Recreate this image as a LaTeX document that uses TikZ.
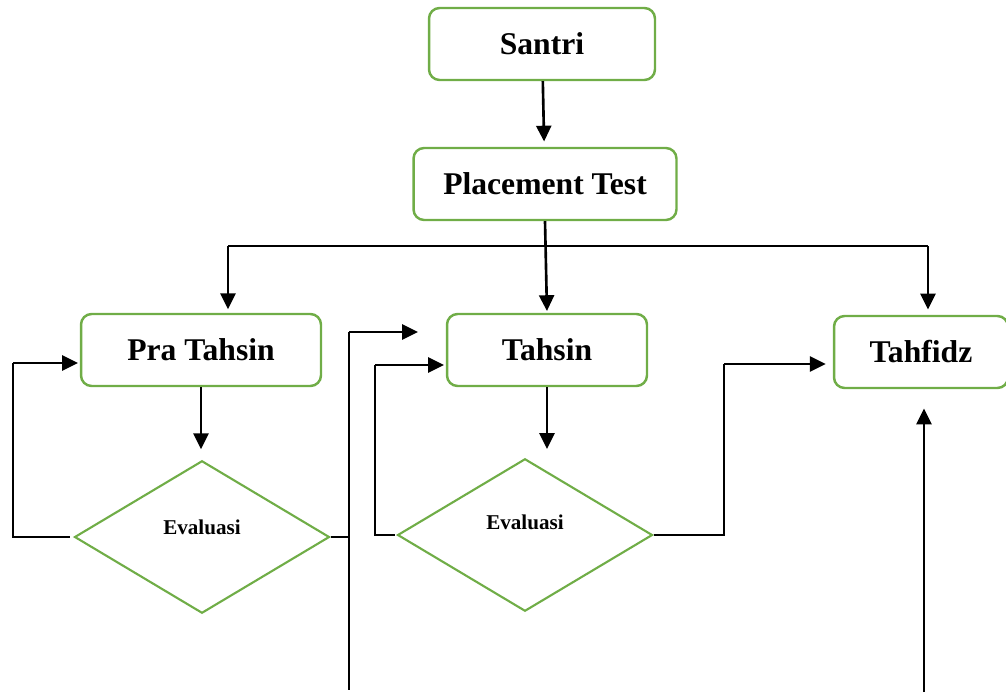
\documentclass[tikz,border=0pt]{standalone}
\usepackage{fontspec}
\setmainfont{Liberation Serif}
\usetikzlibrary{shapes.geometric,arrows.meta}
\definecolor{boxgreen}{RGB}{112,173,71}

\begin{document}
\begin{tikzpicture}[x=0.02cm,y=-0.02cm,
        >={Triangle[length=9pt,width=8.5pt]},
        stage/.style={draw=boxgreen,line width=1.4pt,rounded corners=6pt,
            minimum height=1.44cm,inner sep=0pt,font=\fontsize{18}{20}\selectfont\bfseries},
        decision/.style={draw=boxgreen,line width=1.2pt,diamond,inner sep=0pt,
            minimum width=5.1cm,minimum height=3.05cm},
        evaltext/.style={font=\fontsize{12}{14}\selectfont\bfseries},
        flow/.style={->,line width=1.5pt},
        wire/.style={line width=0.8pt}]

        % page frame
        \useasboundingbox (0,0) rectangle (1006,693);

        % Stages
        \node[stage,minimum width=4.52cm] (santri) at (542,44) {Santri};
        \node[stage,minimum width=5.26cm] (placement) at (545,184) {Placement Test};
        \node[stage,minimum width=4.8cm] (pratahsin) at (201,350) {Pra Tahsin};
        \node[stage,minimum width=4cm] (tahsin) at (547,350) {Tahsin};
        \node[stage,minimum width=3.48cm] (tahfidz) at (921,352) {Tahfidz};

        % Evaluations
        \node[decision,label={[evaltext,yshift=5.5pt]center:Evaluasi}] (evalpra) at (202,537) {};
        \node[decision,label={[evaltext,yshift=7pt]center:Evaluasi}] (evaltahsin) at (525,535) {};

        % Santri to placement
        \draw[flow,shorten >=3pt] (santri) -- (placement);
        \draw[flow,shorten >=1pt] (placement.south) -- (tahsin.north);

        % Split to the three classes
        \coordinate (splitL) at (228,246);
        \coordinate (splitR) at (928,246);
        \draw[wire] (splitL) -- (splitR);
        \draw[flow,shorten >=2pt] (splitL) -- (splitL |- pratahsin.north);
        \draw[flow,shorten >=3pt] (splitR) -- (splitR |- tahfidz.north);

        % Down to the evaluations
        \draw[flow,shorten >=6pt] (pratahsin.south) -- (pratahsin.south |- evalpra.north);
        \draw[flow,shorten >=5pt] (tahsin.south) -- (tahsin.south |- evaltahsin.north);

        % Pra Tahsin again
        \coordinate (backpra) at (13,363);
        \draw[wire] ([xshift=-2pt]evalpra.west) -| (backpra);
        \draw[flow,shorten >=1pt] (backpra) -- (pratahsin.west |- backpra);

        % on to Tahsin
        \coordinate (passtop) at (349,332);
        \coordinate (passbot) at (349,690);
        \coordinate (passend) at (418,332);
        \draw[wire] (evalpra.east) -- (evalpra.east -| passtop);
        \draw[wire] (passtop) -- (passbot);
        \draw[flow] (passtop) -- (passend);

        % Tahsin again
        \coordinate (backtahsin) at (375,365);
        \draw[wire] ([xshift=-1pt]evaltahsin.west) -| (backtahsin);
        \draw[flow,shorten >=1pt] (backtahsin) -- (tahsin.west |- backtahsin);

        % on to Tahfidz
        \coordinate (uptahfidz) at (724,364);
        \draw[wire] (evaltahsin.east) -| (uptahfidz);
        \draw[flow,shorten >=4pt] (uptahfidz) -- (tahfidz.west |- uptahfidz);

        % Entry from below
        \coordinate (fromtahfidz) at (924,692);
        \draw[flow,shorten >=11pt] (fromtahfidz) -- (fromtahfidz |- tahfidz.south);
\end{tikzpicture}
\end{document}
